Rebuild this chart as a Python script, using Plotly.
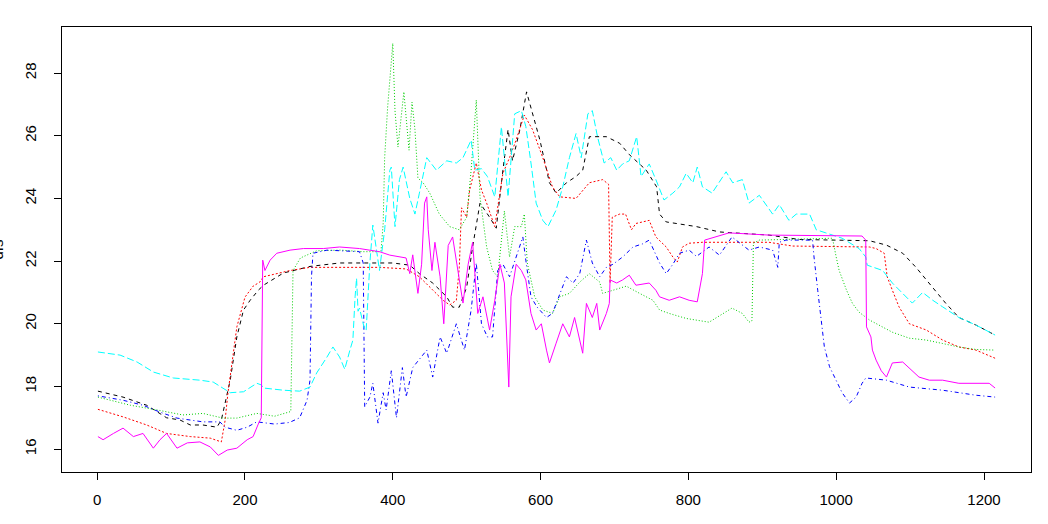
import plotly.graph_objects as go

# ---- data (index, value) ----
black_x = [1, 35, 67, 94, 112, 126, 143, 162, 168, 180, 189, 198, 207, 218, 225, 252, 288, 328, 400, 423, 436, 454, 473, 481, 490, 500, 508, 518, 531, 540, 549, 556, 562, 572, 581, 589, 599, 612, 621, 635, 648, 657, 666, 689, 707, 720, 743, 757, 761, 770, 811, 842, 909, 950, 1045, 1068, 1090, 1108, 1126, 1148, 1166, 1189, 1215]
black_y = [17.85, 17.66, 17.4, 17.0, 16.93, 16.77, 16.77, 16.7, 16.93, 18.2, 19.58, 20.44, 20.75, 21.07, 21.23, 21.62, 21.83, 21.94, 21.94, 21.87, 21.6, 21.3, 20.86, 20.53, 20.53, 21.17, 22.45, 23.85, 23.4, 23.05, 24.9, 26.2, 25.2, 26.2, 27.4, 26.7, 25.87, 24.5, 24.17, 24.5, 24.7, 24.9, 25.97, 25.97, 25.76, 25.4, 24.9, 24.37, 23.5, 23.25, 23.1, 22.93, 22.83, 22.69, 22.65, 22.51, 22.25, 21.8, 21.3, 20.66, 20.2, 19.96, 19.64]

red_x = [1, 35, 67, 94, 126, 153, 168, 173, 177, 182, 189, 200, 211, 220, 225, 261, 288, 382, 400, 418, 436, 450, 468, 477, 486, 490, 493, 500, 504, 513, 520, 527, 538, 549, 558, 567, 578, 589, 603, 616, 626, 648, 666, 684, 692, 694, 697, 707, 715, 723, 729, 747, 756, 770, 779, 785, 792, 801, 819, 909, 941, 1045, 1054, 1065, 1069, 1076, 1085, 1099, 1122, 1144, 1166, 1189, 1215]
red_y = [17.27, 17.03, 16.77, 16.5, 16.4, 16.35, 16.23, 16.9, 17.8, 18.75, 19.9, 20.85, 21.2, 21.33, 21.5, 21.7, 21.8, 21.8, 21.78, 21.75, 21.5, 21.17, 20.75, 20.6, 20.75, 21.8, 23.7, 23.4, 24.27, 25.13, 24.27, 23.85, 23.1, 24.8, 25.3, 25.87, 26.66, 26.2, 25.3, 24.37, 24.05, 24.0, 24.5, 24.6, 24.45, 21.3, 23.4, 23.5, 23.5, 23.0, 23.2, 23.3, 22.77, 22.45, 22.13, 21.97, 22.45, 22.57, 22.6, 22.6, 22.48, 22.45, 22.4, 22.25, 21.5, 21.07, 20.54, 20.0, 19.8, 19.48, 19.26, 19.16, 18.9]

green_x = [1, 45, 81, 116, 143, 170, 189, 216, 240, 262, 265, 275, 297, 330, 360, 384, 387, 389, 393, 400, 403, 407, 415, 422, 426, 430, 434, 441, 450, 463, 477, 490, 500, 506, 513, 518, 527, 535, 542, 551, 558, 565, 574, 578, 582, 592, 603, 616, 626, 639, 653, 666, 680, 684, 698, 716, 734, 752, 761, 774, 797, 828, 859, 873, 882, 886, 888, 896, 995, 997, 1000, 1004, 1014, 1022, 1031, 1045, 1076, 1099, 1122, 1144, 1166, 1189, 1215]
green_y = [17.66, 17.4, 17.25, 17.09, 17.14, 16.99, 16.99, 17.14, 17.05, 17.2, 21.7, 22.1, 22.33, 22.35, 22.3, 22.3, 23.2, 25.3, 26.9, 28.95, 26.8, 25.64, 27.4, 25.54, 27.07, 26.2, 24.65, 24.5, 24.17, 23.5, 23.1, 23.0, 23.4, 24.9, 27.14, 24.05, 22.45, 21.7, 21.5, 23.6, 22.13, 23.1, 23.1, 23.5, 21.94, 20.86, 20.44, 20.33, 20.86, 20.97, 21.33, 21.6, 21.33, 20.97, 21.07, 21.2, 20.97, 20.75, 20.44, 20.33, 20.17, 20.05, 20.5, 20.33, 20.05, 20.1, 22.57, 22.67, 22.73, 22.45, 22.13, 21.7, 21.07, 20.65, 20.37, 20.12, 19.73, 19.54, 19.48, 19.37, 19.26, 19.18, 19.16]

blue_x = [1, 35, 62, 85, 108, 126, 143, 166, 173, 189, 203, 216, 240, 260, 274, 284, 288, 290, 292, 311, 355, 360, 362, 369, 373, 380, 387, 391, 398, 405, 413, 418, 427, 432, 446, 454, 464, 473, 486, 497, 506, 513, 520, 528, 535, 542, 549, 558, 567, 576, 580, 587, 595, 608, 616, 626, 635, 644, 653, 662, 670, 680, 689, 698, 711, 725, 738, 747, 761, 770, 779, 788, 801, 811, 828, 842, 859, 882, 896, 914, 921, 923, 932, 968, 970, 975, 980, 984, 991, 1000, 1008, 1018, 1027, 1035, 1040, 1068, 1099, 1144, 1166, 1189, 1215]
blue_y = [17.7, 17.56, 17.4, 17.18, 16.99, 16.93, 16.87, 16.87, 16.7, 16.6, 16.7, 16.87, 16.8, 16.85, 17.0, 17.56, 18.2, 21.5, 22.25, 22.35, 22.3, 21.94, 17.35, 17.66, 18.1, 16.83, 17.8, 17.25, 18.5, 17.0, 18.6, 17.66, 18.6, 18.75, 19.16, 18.3, 19.58, 19.06, 20.0, 19.16, 20.44, 21.94, 20.0, 19.58, 19.58, 21.7, 21.9, 21.5, 22.13, 22.77, 22.03, 20.86, 20.54, 20.2, 20.33, 20.97, 21.5, 21.3, 21.6, 22.67, 21.94, 21.5, 21.8, 21.9, 22.13, 22.45, 22.55, 22.67, 21.94, 21.6, 21.9, 22.25, 22.35, 22.15, 22.45, 22.19, 22.77, 22.35, 22.45, 22.35, 21.8, 22.6, 22.67, 22.67, 22.13, 21.07, 20.12, 19.26, 18.63, 18.2, 17.8, 17.47, 17.66, 18.1, 18.27, 18.2, 17.98, 17.88, 17.8, 17.72, 17.66]

cyan_x = [1, 31, 54, 76, 103, 139, 157, 170, 180, 198, 216, 222, 225, 252, 274, 288, 297, 311, 319, 328, 335, 342, 346, 349, 351, 353, 355, 362, 364, 369, 373, 378, 382, 389, 396, 398, 403, 409, 414, 423, 430, 436, 446, 459, 473, 486, 495, 506, 511, 520, 528, 538, 547, 556, 565, 574, 580, 587, 594, 603, 610, 621, 630, 639, 648, 655, 664, 670, 677, 686, 695, 703, 711, 720, 730, 736, 747, 756, 767, 779, 788, 797, 806, 812, 819, 832, 851, 860, 873, 882, 896, 914, 923, 936, 946, 964, 973, 986, 1008, 1031, 1040, 1042, 1063, 1076, 1090, 1103, 1117, 1130, 1144, 1166, 1189, 1215]
cyan_y = [19.1, 19.0, 18.78, 18.46, 18.27, 18.2, 18.14, 17.95, 17.8, 17.83, 18.1, 18.05, 17.95, 17.88, 17.85, 17.98, 18.43, 18.94, 19.26, 18.94, 18.55, 19.16, 19.48, 20.86, 21.45, 20.4, 20.5, 19.8, 19.8, 21.94, 23.15, 22.35, 21.7, 23.0, 24.9, 25.0, 23.1, 24.6, 25.0, 24.0, 23.5, 24.17, 25.3, 24.9, 25.2, 25.13, 25.3, 25.86, 24.9, 24.95, 24.7, 24.05, 26.28, 24.05, 26.7, 26.8, 26.3, 25.13, 23.85, 23.3, 23.1, 23.63, 24.37, 25.3, 26.07, 25.3, 26.7, 26.8, 25.97, 25.13, 25.3, 24.9, 25.1, 25.2, 25.97, 24.7, 25.1, 24.6, 23.95, 24.17, 24.37, 24.8, 24.5, 25.0, 24.37, 24.17, 24.85, 24.5, 24.6, 23.85, 24.1, 23.5, 23.8, 23.3, 23.5, 23.5, 23.0, 22.9, 22.73, 22.4, 22.13, 21.87, 21.7, 21.3, 20.97, 20.66, 21.0, 20.76, 20.54, 20.2, 19.96, 19.64]

magenta_x = [1, 8, 22, 35, 49, 62, 76, 85, 94, 108, 122, 139, 153, 164, 176, 189, 203, 211, 218, 222, 224, 227, 234, 243, 261, 279, 306, 328, 355, 382, 396, 414, 418, 423, 427, 434, 439, 443, 446, 448, 453, 457, 464, 469, 475, 481, 488, 495, 502, 508, 515, 522, 531, 538, 545, 551, 557, 560, 567, 574, 580, 587, 594, 601, 608, 612, 621, 630, 639, 646, 657, 662, 670, 676, 680, 689, 693, 694, 703, 711, 720, 729, 747, 756, 761, 774, 788, 801, 812, 819, 822, 838, 855, 909, 1035, 1040, 1041, 1047, 1049, 1054, 1061, 1068, 1076, 1090, 1099, 1112, 1126, 1144, 1166, 1189, 1207, 1215]
magenta_y = [16.4, 16.3, 16.5, 16.67, 16.4, 16.5, 16.03, 16.3, 16.5, 16.03, 16.2, 16.23, 16.07, 15.8, 15.97, 16.03, 16.3, 16.4, 16.8, 17.0, 22.03, 21.7, 22.03, 22.25, 22.35, 22.4, 22.4, 22.45, 22.4, 22.3, 22.19, 22.1, 22.1, 21.6, 22.2, 20.97, 21.9, 23.85, 24.05, 23.0, 21.7, 22.6, 21.5, 20.0, 22.5, 22.77, 21.7, 20.66, 21.9, 22.6, 20.33, 20.86, 19.8, 20.75, 21.9, 21.3, 17.98, 20.86, 21.9, 21.7, 21.4, 20.33, 19.8, 20.0, 19.16, 18.75, 19.38, 20.0, 19.58, 20.2, 19.06, 20.65, 20.2, 20.65, 19.8, 20.33, 20.65, 21.4, 21.3, 21.4, 21.55, 21.23, 21.3, 21.07, 20.86, 20.75, 20.86, 20.75, 20.7, 21.6, 22.67, 22.77, 22.9, 22.83, 22.8, 22.67, 19.9, 19.58, 19.16, 18.84, 18.5, 18.3, 18.75, 18.78, 18.58, 18.3, 18.2, 18.2, 18.1, 18.1, 18.1, 17.95]

x_ticks = [0, 200, 400, 600, 800, 1000, 1200]
y_ticks = [16, 18, 20, 22, 24, 26, 28]

series = [
    (black_x, black_y, "#000000", "4px,4px"),
    (red_x, red_y, "#FF0000", "2px,2px"),
    (green_x, green_y, "#00CD00", "1px,2px"),
    (blue_x, blue_y, "#0000FF", "1px,3px,4px,3px"),
    (cyan_x, cyan_y, "#00FFFF", "7px,3px"),
    (magenta_x, magenta_y, "#FF00FF", "solid"),
]

fig = go.Figure()
for xs, ys, col, dash in series:
    fig.add_trace(go.Scatter(x=xs, y=ys, mode="lines",
                             line=dict(color=col, width=1, dash=dash),
                             showlegend=False, hoverinfo="skip"))

font = dict(family="Liberation Sans, Arial, sans-serif", size=15, color="black")

fig.update_layout(
    width=1048, height=524,
    margin=dict(l=62, r=17, t=27, b=52),
    paper_bgcolor="white", plot_bgcolor="white",
    font=font,
    showlegend=False,
)
fig.update_xaxes(range=[-47.6, 1263.6], tickvals=x_ticks, ticks="outside", ticklen=7,
                 tickcolor="black", showline=True, linecolor="black", linewidth=1,
                 mirror=True, showgrid=False, zeroline=False, ticklabelstandoff=7,
                 tickfont=font)
fig.update_yaxes(range=[15.27, 29.47], tickvals=y_ticks, ticks="outside", ticklen=7,
                 tickcolor="black", showline=True, linecolor="black", linewidth=1,
                 mirror=True, showgrid=False, zeroline=False, tickangle=-90,
                 ticklabelstandoff=12, tickfont=font)
fig.add_annotation(text="dfs", xref="paper", yref="paper", x=-0.067, y=0.5,
                   xanchor="center", yanchor="middle", textangle=-90,
                   showarrow=False, font=font)

fig.write_html("out.html", config={"displayModeBar": False},
               post_script="document.body.style.margin='0px';document.body.style.overflow='hidden';")
